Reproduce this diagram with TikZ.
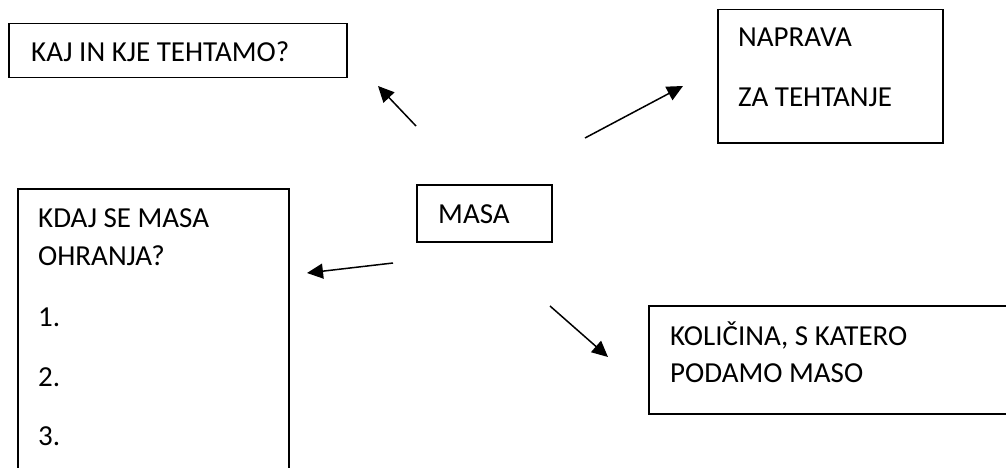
\documentclass[tikz,border=0pt]{standalone}
\usepackage{fontspec}
\setmainfont{Carlito}
\usepackage{tikz}
\usetikzlibrary{positioning,calc,arrows.meta}

\begin{document}
\begin{tikzpicture}[
    x=1pt, y=-1pt,
    box/.style={rectangle, draw, line width=1.5pt, inner sep=0pt, anchor=north west},
    txt/.style={anchor=base west, inner sep=0pt, font=\fontsize{29}{38}\selectfont},
    link/.style={-{Triangle[length=16pt, width=15pt]}, line width=1.5pt}
]
    \useasboundingbox (0,0) rectangle (1006,468);
    \clip (0,0) rectangle (1006,468);

    % Boxes
    \node[box, minimum width=338pt, minimum height=54pt] (kaj) at (8,23) {};
    \node[box, minimum width=225pt, minimum height=133pt] (naprava) at (717,9) {};
    \node[box, minimum width=135pt, minimum height=57pt] (masa) at (416,184) {};
    \node[box, minimum width=271pt, minimum height=320pt] (kdaj) at (17,188) {};
    \node[box, minimum width=400pt, minimum height=108pt] (kolicina) at (648,305) {};

    % Texts
    \node[txt] (kajtxt) at (31,62) {KAJ IN KJE TEHTAMO?};
    \node[txt] (napravatxt) at (738,47) {NAPRAVA};
    \node[txt] (tehtanjetxt) at (738,107) {ZA TEHTANJE};
    \node[txt] (masatxt) at (438,223) {MASA};
    \node[txt] (kdajtxt) at (38,227) {KDAJ SE MASA};
    \node[txt] (ohranjatxt) at (38,265) {OHRANJA?};
    \node[txt] (ena) at (38,326) {1.};
    \node[txt] (dva) at (38,386) {2.};
    \node[txt] (tri) at (38,445) {3.};
    \node[txt] (kolicinatxt) at (670,345) {KOLIČINA, S KATERO};
    \node[txt] (podamotxt) at (670,382) {PODAMO MASO};

    % Arrows
    \coordinate (nwA) at (416,126);
    \coordinate (nwB) at (378,86);
    \coordinate (neA) at (585,138);
    \coordinate (neB) at (683,86);
    \coordinate (wA) at (393,263);
    \coordinate (wB) at (307,273);
    \coordinate (seA) at (550,306);
    \coordinate (seB) at (608,357);
    \draw[link] (nwA) -- (nwB);
    \draw[link] (neA) -- (neB);
    \draw[link] (wA) -- (wB);
    \draw[link] (seA) -- (seB);
\end{tikzpicture}
\end{document}
